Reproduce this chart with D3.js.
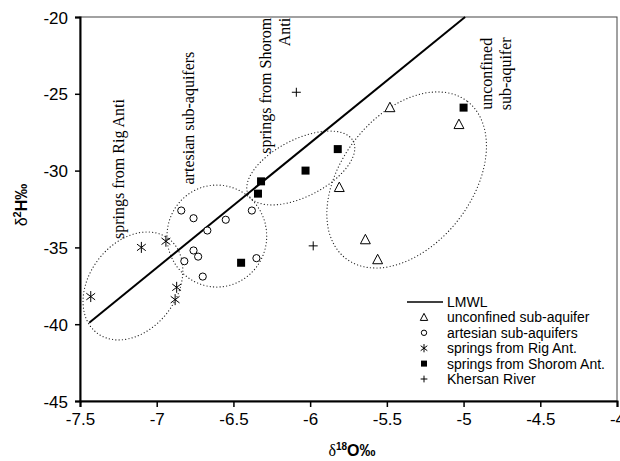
<!DOCTYPE html>
<html>
<head>
<meta charset="utf-8">
<script src="https://cdn.jsdelivr.net/npm/d3@7"></script>
<style>
	body { margin: 0; background: #fff; }
	.tick-label { font-family: "Liberation Sans", Arial, sans-serif; font-size: 17px; fill: #000; }
	.legend-text { font-family: "Liberation Sans", Arial, sans-serif; font-size: 14px; fill: #000; }
	.group-label { font-family: "Liberation Serif", "Times New Roman", serif; font-size: 16px; fill: #000; }
</style>
</head>
<body>
<div id="graph"></div>
<script>
// isotope samples, [d18O, d2H]
var unconfined = [[-5.48, -25.9], [-5.03, -27.0], [-5.81, -31.1], [-5.64, -34.5], [-5.56, -35.8]];
var artesian = [[-6.84, -32.6], [-6.76, -33.1], [-6.55, -33.2], [-6.38, -32.6], [-6.67, -33.9],
	[-6.76, -35.2], [-6.73, -35.6], [-6.82, -35.9], [-6.70, -36.9], [-6.35, -35.7]];
var rigSprings = [[-7.43, -38.2], [-7.10, -35.0], [-6.94, -34.6], [-6.87, -37.6], [-6.88, -38.4]];
var shoromSprings = [[-5.00, -25.9], [-5.82, -28.6], [-6.03, -30.0], [-6.32, -30.7], [-6.34, -31.5], [-6.45, -36.0]];
var khersan = [[-6.09, -24.9], [-5.98, -34.9]];
var lmwl = [[-7.44, -39.9], [-4.99, -20]];

var xTicks = [-7.5, -7, -6.5, -6, -5.5, -5, -4.5, -4];
var yTicks = [-20, -25, -30, -35, -40, -45];

// group ellipses: centre, end of one semi-axis, end of the other (data units)
var groupEllipses = [
	[[-7.155, -37.51], [-6.92, -34.45], [-6.93, -39.24]],
	[[-6.608, -34.26], [-6.608, -30.94], [-6.283, -34.26]],
	[[-6.061, -29.83], [-5.719, -28.09], [-5.977, -31.49]],
	[[-5.371, -30.61], [-4.973, -25.51], [-5.036, -33.23]]
];

var groupLabels = [
	{ lines: ["springs from Rig Anti"], x: -7.214, y: -29.9, anchor: "middle" },
	{ lines: ["artesian sub-aquifers"], x: -6.758, y: -26.58, anchor: "middle" },
	{ lines: ["springs from Shorom", "Anti"], x: -6.257, y: -20.05, anchor: "end" },
	{ lines: ["unconfined", "sub-aquifer"], x: -4.815, y: -23.7, anchor: "middle" }
];

var legendNames = ["LMWL", "unconfined sub-aquifer", "artesian sub-aquifers", "springs from Rig Ant.", "springs from Shorom Ant.", "Khersan River"];

var width = 620, height = 461;
var margin = { left: 80, right: 3, top: 17, bottom: 60 };

var svg = d3.select("#graph")
	.append("svg")
	.attr("width", width)
	.attr("height", height);

var x = d3.scaleLinear().domain([-7.5, -4]).range([margin.left, width - margin.right]);
var y = d3.scaleLinear().domain([-45, -20]).range([height - margin.bottom, margin.top]);

// plain hyphen minus, like the original
var fmt = (d) => String(d);

// frame
svg.append("rect")
	.attr("x", x(-7.5)).attr("y", y(-20))
	.attr("width", x(-4) - x(-7.5)).attr("height", y(-45) - y(-20))
	.attr("fill", "none").attr("stroke", "#444").attr("stroke-width", 1);

// axes
var xAxis = svg.append("g")
	.attr("transform", "translate(0," + y(-45) + ")")
	.call(d3.axisBottom(x).tickValues(xTicks).tickSize(6).tickFormat(fmt));
var yAxis = svg.append("g")
	.attr("transform", "translate(" + x(-7.5) + ",0)")
	.call(d3.axisLeft(y).tickValues(yTicks).tickSize(5).tickFormat(fmt));

[xAxis, yAxis].forEach(function (ax) {
	ax.select(".domain").attr("stroke", "#000").attr("stroke-width", 2);
	ax.selectAll(".tick line").attr("stroke", "#000").attr("stroke-width", 1.5);
	ax.selectAll(".tick text").attr("class", "tick-label").attr("font-size", null).attr("font-family", null);
});
xAxis.selectAll(".tick text").attr("dy", null).attr("y", 24);
yAxis.selectAll(".tick text").attr("x", -12).attr("dy", "0.36em");

// axis titles
var xt = svg.append("text")
	.attr("x", 352).attr("y", 456)
	.attr("text-anchor", "middle")
	.attr("font-family", "Liberation Sans, Arial, sans-serif")
	.attr("font-size", 16);
xt.append("tspan").attr("font-family", "Liberation Serif, serif").text("δ");
xt.append("tspan").attr("font-size", 10).attr("dy", -6).attr("font-weight", "bold").text("18");
xt.append("tspan").attr("dy", 6).attr("font-weight", "bold").text("O‰");

var yt = svg.append("text")
	.attr("transform", "translate(27," + 205 + ") rotate(-90)")
	.attr("text-anchor", "middle")
	.attr("font-family", "Liberation Sans, Arial, sans-serif")
	.attr("font-size", 16);
yt.append("tspan").text("δ");
yt.append("tspan").attr("font-size", 11).attr("dy", -6).attr("font-weight", "bold").text("2");
yt.append("tspan").attr("dy", 6).attr("font-weight", "bold").text("H‰");

// dotted group ellipses
var ellipseLine = d3.line().curve(d3.curveLinearClosed);
svg.append("g").selectAll("path")
	.data(groupEllipses)
	.enter()
	.append("path")
	.attr("d", function (e) {
		var cx = x(e[0][0]), cy = y(e[0][1]);
		var ux = x(e[1][0]) - cx, uy = y(e[1][1]) - cy;
		var vx = x(e[2][0]) - cx, vy = y(e[2][1]) - cy;
		var pts = d3.range(0, 120).map(function (i) {
			var t = i / 120 * 2 * Math.PI;
			return [cx + ux * Math.cos(t) + vx * Math.sin(t), cy + uy * Math.cos(t) + vy * Math.sin(t)];
		});
		return ellipseLine(pts);
	})
	.attr("fill", "none")
	.attr("stroke", "#222")
	.attr("stroke-width", 1.2)
	.attr("stroke-linecap", "round")
	.attr("stroke-dasharray", "0.1,3.2");

// LMWL
svg.append("path")
	.datum(lmwl)
	.attr("d", d3.line().x((d) => x(d[0])).y((d) => y(d[1])))
	.attr("fill", "none")
	.attr("stroke", "#000")
	.attr("stroke-width", 2);

// group labels
var lab = svg.append("g").selectAll("text")
	.data(groupLabels)
	.enter()
	.append("text")
	.attr("class", "group-label")
	.attr("text-anchor", (d) => d.anchor)
	.attr("transform", (d) => "translate(" + x(d.x) + "," + y(d.y) + ") rotate(-90)");
lab.selectAll("tspan")
	.data((d) => d.lines)
	.enter()
	.append("tspan")
	.attr("x", 0)
	.attr("y", (d, i) => i * 19)
	.text((d) => d);

// marker drawing
function drawMarker(g, kind, s) {
	if (kind === "triangle") {
		g.append("path")
			.attr("d", "M0," + (-s * 0.6) + "L" + (s * 0.55) + "," + (s * 0.45) + "L" + (-s * 0.55) + "," + (s * 0.45) + "Z")
			.attr("fill", "#fff").attr("stroke", "#000").attr("stroke-width", 1);
	} else if (kind === "circle") {
		g.append("circle").attr("r", s * 0.45)
			.attr("fill", "#fff").attr("stroke", "#000").attr("stroke-width", 1);
	} else if (kind === "square") {
		g.append("rect").attr("x", -s / 2).attr("y", -s / 2).attr("width", s).attr("height", s)
			.attr("fill", "#000");
	} else if (kind === "asterisk") {
		var h = s / 2;
		g.append("path")
			.attr("d", "M0," + (-h) + "V" + h + "M" + (-h * 0.8) + "," + (-h * 0.6) + "L" + (h * 0.8) + "," + (h * 0.6) +
				"M" + (-h * 0.8) + "," + (h * 0.6) + "L" + (h * 0.8) + "," + (-h * 0.6))
			.attr("stroke", "#000").attr("stroke-width", 1).attr("fill", "none");
	} else if (kind === "plus") {
		var p = s / 2;
		g.append("path")
			.attr("d", "M0," + (-p) + "V" + p + "M" + (-p) + ",0H" + p)
			.attr("stroke", "#000").attr("stroke-width", 1).attr("fill", "none");
	}
}

var series = [
	{ data: unconfined, kind: "triangle", size: 9 },
	{ data: artesian, kind: "circle", size: 8 },
	{ data: rigSprings, kind: "asterisk", size: 11 },
	{ data: shoromSprings, kind: "square", size: 8 },
	{ data: khersan, kind: "plus", size: 9 }
];

series.forEach(function (s) {
	svg.append("g").selectAll("g")
		.data(s.data)
		.enter()
		.append("g")
		.attr("transform", (d) => "translate(" + x(d[0]) + "," + y(d[1]) + ")")
		.each(function () { drawMarker(d3.select(this), s.kind, s.size); });
});

// legend
var legend = svg.append("g").attr("transform", "translate(407,302)");
var legendRow = 15.4;
legend.append("line")
	.attr("x1", 0).attr("x2", 36).attr("y1", 0).attr("y2", 0)
	.attr("stroke", "#000").attr("stroke-width", 1.5);
legend.selectAll("text")
	.data(legendNames)
	.enter()
	.append("text")
	.attr("class", "legend-text")
	.attr("x", 40)
	.attr("y", (d, i) => i * legendRow)
	.attr("dy", "0.35em")
	.text((d) => d);
series.forEach(function (s, i) {
	var g = legend.append("g").attr("transform", "translate(17," + ((i + 1) * legendRow) + ")");
	drawMarker(g, s.kind, s.size * 0.75);
});
</script>
</body>
</html>
